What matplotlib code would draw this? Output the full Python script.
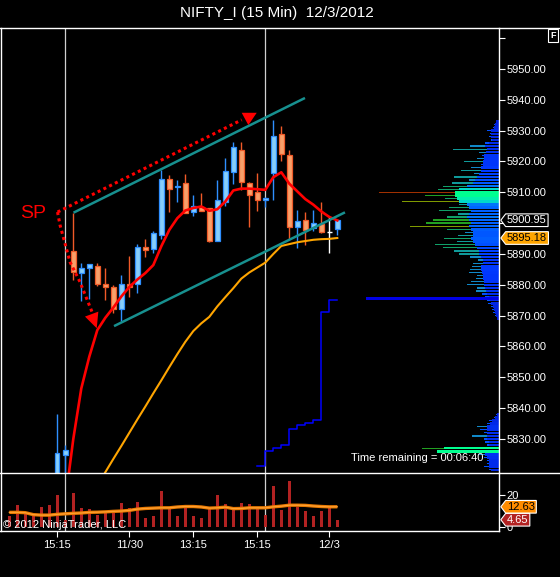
import numpy as np
import matplotlib
matplotlib.use("Agg")
import matplotlib.pyplot as plt
from matplotlib.path import Path
from matplotlib.lines import Line2D
from matplotlib.patches import Polygon
from matplotlib.colors import LinearSegmentedColormap

plt.rcParams['font.family'] = ['Liberation Sans', 'DejaVu Sans']

# ---------------- data ----------------
title = "NIFTY_I (15 Min)  12/3/2012"
opens = [5792, 5796, 5801, 5804, 5806, 5809, 5812, 5824.7, 5891.1, 5883.8,
         5885.4, 5886.2, 5880.2, 5879.2, 5872.1, 5880.2, 5880.2, 5892.2, 5891.6, 5896.0,
         5914.3, 5911.7, 5913.0, 5903.6, 5905.2, 5904.9, 5894.2, 5907.0, 5916.5, 5923.8,
         5913.0, 5910.0, 5907.4, 5916.2, 5929.0, 5922.2, 5898.9, 5901.1, 5898.4, 5899.7,
         5897.1, 5898.0]
highs = [5798, 5803, 5806, 5808, 5811, 5814, 5838.1, 5828.0, 5903.2, 5887.0,
         5886.9, 5887.0, 5885.4, 5880.0, 5883.2, 5889.2, 5893.3, 5894.8, 5897.3, 5917.3,
         5915.7, 5914.1, 5916.0, 5909.1, 5909.7, 5905.0, 5914.1, 5921.1, 5926.2, 5926.4,
         5913.2, 5916.4, 5908.6, 5933.3, 5931.4, 5923.8, 5904.3, 5903.5, 5904.3, 5907.0,
         5902.3, 5901.1]
lows = [5788, 5794, 5798, 5800, 5803, 5805, 5810, 5815.0, 5881.4, 5874.9,
        5875.4, 5879.5, 5875.1, 5870.8, 5868.1, 5876.2, 5877.5, 5889.0, 5890.3, 5894.8,
        5903.5, 5906.7, 5903.2, 5902.2, 5903.8, 5894.0, 5894.1, 5905.4, 5912.8, 5910.8,
        5898.6, 5904.1, 5905.2, 5907.4, 5920.2, 5894.8, 5892.1, 5893.0, 5897.3, 5896.8,
        5890.2, 5896.2]
closes = [5796, 5801, 5804, 5806, 5809, 5812, 5825.3, 5826.4, 5884.0, 5885.4,
          5886.7, 5880.2, 5879.2, 5872.1, 5880.2, 5879.2, 5892.2, 5891.2, 5896.8, 5914.3,
          5911.0, 5912.1, 5903.2, 5905.4, 5904.1, 5894.2, 5907.6, 5916.9, 5924.6, 5913.2,
          5909.0, 5907.4, 5908.2, 5928.3, 5922.4, 5898.9, 5900.8, 5897.8, 5900.0, 5897.0,
          5897.1, 5900.95]
ema_fast = [5768, 5774, 5780, 5786, 5792, 5798, 5804, 5810, 5830.0, 5846.4,
            5856.7, 5865.3, 5869.3, 5872.6, 5876.2, 5879.3, 5881.7, 5883.8, 5886.4, 5892.5,
            5897.8, 5901.6, 5904.1, 5904.9, 5905.4, 5904.0, 5904.5, 5907.0, 5910.6, 5911.2,
            5911.2, 5911.0, 5910.8, 5914.9, 5916.5, 5912.8, 5910.3, 5907.8, 5906.0, 5903.8,
            5902.0, 5900.9]
sma_slow = [5770, 5774, 5778, 5782, 5786, 5790, 5794, 5798, 5802, 5806,
            5810, 5814.8, 5819.2, 5823.5, 5827.7, 5832.0, 5836.3, 5840.5, 5844.8, 5849.0,
            5853.3, 5857.5, 5861.5, 5865.0, 5867.5, 5869.6, 5873.0, 5876.0, 5878.9, 5882.0,
            5884.0, 5885.6, 5887.2, 5890.0, 5892.6, 5893.2, 5893.8, 5894.2, 5894.6, 5894.8,
            5894.9, 5895.18]
volumes = [7.0, 13.7, 8.6, 7.6, 12.3, 13.7, 19.9, 4.5, 20.9, 11.7,
           11.1, 7.6, 9.6, 9.0, 14.8, 11.7, 15.4, 5.5, 7.0, 22.3,
           11.7, 7.0, 13.1, 7.0, 5.5, 11.1, 19.9, 14.3, 12.3, 15.0,
           14.3, 11.7, 7.6, 25.4, 10.6, 28.5, 12.3, 10.0, 7.0, 10.0,
           12.3, 4.65]
vol_ma = [9.2, 9.2, 9.0, 7.8, 7.5, 7.5, 8.0, 8.3, 8.6, 8.8,
          9.2, 9.3, 9.5, 9.8, 10.0, 10.4, 11.2, 11.6, 11.8, 12.0,
          12.0, 12.5, 12.8, 12.8, 12.5, 11.8, 12.0, 12.4, 11.5, 11.6,
          12.0, 12.0, 12.0, 12.6, 13.0, 13.6, 13.6, 13.5, 13.1, 12.8,
          12.6, 12.63]
stop_bars = [31, 32, 33, 34, 35, 36, 37, 38, 39, 40, 41]
stop_vals = [5821.3, 5826.2, 5827.0, 5828.0, 5833.1, 5834.4, 5835.1, 5836.0, 5871.1, 5875.0, 5875.0]
channel_upper_x = [8.03, 36.96]
channel_upper_y = [5903.4, 5940.6]
channel_lower_x = [13.09, 41.96]
channel_lower_y = [5866.6, 5903.5]
sp_up_x = [6.03, 29.05]
sp_up_y = [5903.6, 5933.5]
sp_dn_x = [6.03, 6.34, 7.59, 8.84, 10.34]
sp_dn_y = [5903.6, 5899.4, 5887.4, 5880.9, 5871.2]
sp_up_head = [(29.05, 5935.8), (30.93, 5935.8), (29.88, 5931.8)]
sp_dn_head = [(9.46, 5869.7), (11.13, 5871.3), (10.93, 5865.9)]
sp_label = ("SP", 2.96, 5903.0)
session_bars = [7, 32]
xtick_bars = [6, 15, 23, 31, 40]
xtick_labels = ['15:15', '11/30', '13:15', '15:15', '12/3']
price_ticks = [5830, 5840, 5850, 5860, 5870, 5880, 5890, 5900, 5910, 5920, 5930, 5940, 5950, 5960]
price_labels = ['5830.00', '5840.00', '5850.00', '5860.00', '5870.00', '5880.00', '5890.00',
                '', '5910.00', '5920.00', '5930.00', '5940.00', '5950.00', '']
vol_ticks = [0, 20]

# volume profile (price level -> length in px of the profile bar, and dense core width)
prof_prices = list(range(5869, 5934))
prof_len = [2, 4, 6, 7, 8, 11, 12, 14, 17, 23, 22, 32, 28, 23, 22, 30, 29, 27, 26, 21,
            29, 40, 45, 56, 64, 42, 55, 41, 34, 52, 89, 73, 66, 52, 41, 60, 50, 40, 97, 54,
            74, 120, 61, 56, 47, 30, 45, 25, 38, 28, 18, 35, 22, 17, 20, 46, 29, 14, 8, 10,
            9, 12, 6, 5, 3]
prof_core = [2, 3, 4, 5, 6, 8, 9, 10, 12, 13, 14, 15, 15, 16, 16, 17, 18, 18, 16, 16,
             18, 20, 20, 22, 24, 26, 28, 26, 26, 28, 30, 28, 30, 32, 30, 28, 30, 32, 40, 42,
             44, 44, 40, 32, 26, 24, 22, 20, 18, 18, 16, 16, 15, 15, 13, 12, 14, 10, 7, 8,
             8, 8, 5, 4, 3]
prof2_prices = list(range(5820, 5839))
prof2_len = [10, 15, 12, 12, 15, 20, 62, 77, 12, 14, 15, 27, 15, 19, 22, 12, 10, 5, 3]
prof2_core = [8, 10, 10, 10, 12, 14, 62, 55, 10, 10, 12, 12, 12, 12, 12, 9, 7, 4, 2]
stop_level = 5875.6
stop_level_len = 133

# ---------------- layout helpers ----------------
W, H = 560, 577
def fxp(px):
    return px / W
def fyp(py):
    return 1 - py / H

BG = 'black'
fig = plt.figure(figsize=(W / 100, H / 100), dpi=100, facecolor=BG)

P_TOP, P_BOT, V_BOT, AX_R = 27.5, 473.3, 531.3, 499.0
ax = fig.add_axes([0, fyp(P_BOT), AX_R / W, (P_BOT - P_TOP) / H])
axv = fig.add_axes([0, fyp(V_BOT), AX_R / W, (V_BOT - P_BOT) / H], sharex=ax)
for a in (ax, axv):
    a.set_facecolor(BG)
    for s in a.spines.values():
        s.set_visible(False)
    a.spines['right'].set_visible(True)
    a.spines['right'].set_color('white')
    a.spines['right'].set_linewidth(1.0)
axv.spines['bottom'].set_visible(True)
axv.spines['bottom'].set_color('white')
axv.spines['bottom'].set_linewidth(1.0)

XMIN, XMAX = -9.3 / 8, (AX_R - 9.3) / 8
YMIN, YMAX = 5818.86, 5963.46

idx = np.arange(len(opens))

# session lines
for b in session_bars:
    ax.axvline(b, color='#d0d0d0', lw=0.9, zorder=1)
    axv.axvline(b, color='#d0d0d0', lw=0.9, zorder=1)

# ---------------- volume profile ----------------
core_cmap = LinearSegmentedColormap.from_list(
    'core', [(0.0, '#0018d0'), (0.4, '#0038ff'), (0.7, '#0068ff'), (0.85, '#00a8e8'),
             (0.93, '#00e8c0'), (1.0, '#00ff90')])

def len_color(L):
    if L >= 110:
        return '#a03000'
    if L >= 85:
        return '#7f9a00'
    if L >= 65:
        return '#22a022'
    if L >= 50:
        return '#10a068'
    if L >= 35:
        return '#0f9a9a'
    if L >= 20:
        return '#1088c8'
    return '#0050ff'

def draw_profile(prices, lens, cores):
    for p, L, C in zip(prices, lens, cores):
        ax.barh(p, L / 8, left=XMAX - L / 8, height=0.42, color=len_color(L), lw=0, zorder=1.2)
    for p, L, C in zip(prices, lens, cores):
        ax.barh(p, C / 8, left=XMAX - C / 8, height=0.8, color=core_cmap(min(C / 44, 1.0)),
                lw=0, zorder=1.4)

draw_profile(prof_prices, prof_len, prof_core)
draw_profile(prof2_prices, prof2_len, prof2_core)
ax.barh(stop_level, stop_level_len / 8, left=XMAX - stop_level_len / 8, height=0.9,
        color='#0000e6', lw=0, zorder=1.5)

# ---------------- candles ----------------
UP_FILL, UP_EDGE = '#87cefa', '#2f8fff'
DN_FILL, DN_EDGE = '#f8a06a', '#f05a28'
for i, o, h, l, c in zip(idx, opens, highs, lows, closes):
    if c > o:
        fc, ec = UP_FILL, UP_EDGE
    elif c < o:
        fc, ec = DN_FILL, DN_EDGE
    else:
        fc, ec = 'white', 'white'
    ax.vlines(i, l, h, color=ec, lw=1.0, zorder=2)
    if c != o:
        ax.bar(i, abs(c - o), bottom=min(o, c), width=0.55, facecolor=fc, edgecolor=ec,
               lw=0.9, zorder=2.1)
    else:
        ax.hlines(o, i - 0.3, i + 0.3, color=ec, lw=1.0, zorder=2.1)

# ---------------- indicators ----------------
ax.plot(idx, sma_slow, color='#ffa500', lw=1.5, zorder=3)
ax.plot(idx, ema_fast, color='#ff0000', lw=1.9, zorder=3.2)
ax.plot(stop_bars, stop_vals, drawstyle='steps-post', color='#0000ff', lw=1.1, zorder=3)
ax.plot(channel_upper_x, channel_upper_y, color='#17908f', lw=1.8, zorder=4,
        solid_capstyle='butt')
ax.plot(channel_lower_x, channel_lower_y, color='#17908f', lw=1.8, zorder=4,
        solid_capstyle='butt')

# SP arrows
ax.plot(sp_up_x, sp_up_y, color='#ff0000', lw=2.2, linestyle=(0, (1, 1.1)), zorder=5)
ax.plot(sp_dn_x, sp_dn_y, color='#ff0000', lw=2.2, linestyle=(0, (1, 1.1)), zorder=5)
ax.add_patch(Polygon(sp_up_head, closed=True, fc='#ff0000', ec='none', zorder=5))
ax.add_patch(Polygon(sp_dn_head, closed=True, fc='#ff0000', ec='none', zorder=5))
ax.text(sp_label[1], sp_label[2], sp_label[0], color='#ff0000', fontsize=14,
        ha='center', va='center', zorder=5)

ax.set_xlim(XMIN, XMAX)
ax.set_ylim(YMIN, YMAX)

# price axis ticks
ax.yaxis.tick_right()
ax.set_yticks(price_ticks)
ax.set_yticklabels(price_labels)
ax.tick_params(axis='y', colors='white', length=4.3, width=0.8, direction='out', pad=1.4,
               labelsize=8)
ax.tick_params(axis='x', bottom=False, labelbottom=False)

# ---------------- volume panel ----------------
axv.bar(idx, volumes, width=0.4, color='#b22222', zorder=2)
axv.plot(idx, vol_ma, color='#e87800', lw=2.4, zorder=3, solid_capstyle='butt')
axv.plot(idx, vol_ma, color='#ffa030', lw=0.9, zorder=3.1)
axv.set_ylim(-2.46, 33.23)
axv.yaxis.tick_right()
axv.set_yticks(vol_ticks)
axv.set_yticklabels([str(t) for t in vol_ticks])
axv.tick_params(axis='y', colors='white', length=4.3, width=0.8, direction='out', pad=1.4,
                labelsize=8)
axv.set_xticks(xtick_bars)
axv.set_xticklabels(xtick_labels)
axv.tick_params(axis='x', colors='white', length=4.3, width=0.8, direction='out', pad=2,
                labelsize=8)
axv.set_xlim(XMIN, XMAX)

# ---------------- price tags ----------------
def tag_box(x0, y0, width, height, mutation_size):
    pad = 0.12 * mutation_size
    x0 -= pad
    y0 -= pad
    width += 2 * pad
    height += 2 * pad
    notch = 0.38 * height
    verts = [(x0 - notch, y0 + height / 2), (x0, y0 + height), (x0 + width, y0 + height),
             (x0 + width, y0), (x0, y0), (x0 - notch, y0 + height / 2)]
    codes = [Path.MOVETO, Path.LINETO, Path.LINETO, Path.LINETO, Path.LINETO, Path.CLOSEPOLY]
    return Path(verts, codes)

def tag(a, val, text, fc, tc):
    a.text(1.016, val, text, transform=a.get_yaxis_transform(), ha='left', va='center',
           fontsize=8, color=tc, clip_on=False, zorder=10,
           bbox=dict(boxstyle=tag_box, fc=fc, ec='white', lw=0.8))

tag(ax, closes[-1], f'{closes[-1]:.2f}', 'black', 'white')
tag(ax, sma_slow[-1], f'{sma_slow[-1]:.2f}', '#ffa500', 'black')
tag(axv, vol_ma[-1], f'{vol_ma[-1]:.2f}', '#ff8c00', 'black')
tag(axv, volumes[-1], f'{volumes[-1]:.2f}', '#b22222', 'white')

# ---------------- frame lines & texts ----------------
fig.add_artist(Line2D([0, 1], [fyp(P_TOP), fyp(P_TOP)], color='white', lw=1.0,
                      transform=fig.transFigure))
fig.add_artist(Line2D([0, 1], [fyp(P_BOT), fyp(P_BOT)], color='white', lw=1.0,
                      transform=fig.transFigure))
fig.add_artist(Line2D([fxp(0.5), fxp(0.5)], [fyp(P_TOP), fyp(V_BOT)], color='white', lw=1.0,
                      transform=fig.transFigure))

fig.text(fxp(277), fyp(13), title, ha='center', va='center', fontsize=11, color='white')
fig.text(fxp(553), fyp(35.5), 'F', ha='center', va='center', fontsize=6.5, color='white',
         fontweight='bold',
         bbox=dict(boxstyle='square,pad=0.25', fc='black', ec='white', lw=0.8))
fig.text(fxp(350.6), fyp(458.3), 'Time remaining = 00:06:40', ha='left', va='center',
         fontsize=8, color='white', zorder=10)
fig.text(fxp(3), fyp(525), '\u00a9 2012 NinjaTrader, LLC', ha='left', va='center',
         fontsize=8, color='white', zorder=10)

fig.savefig('out.png', dpi=100, facecolor=BG)
